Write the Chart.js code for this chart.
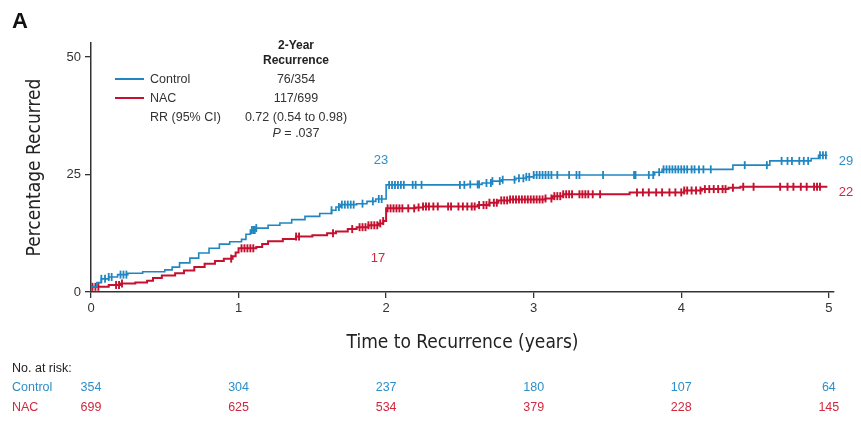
<!DOCTYPE html>
<html>
<head>
<meta charset="utf-8">
<script src="https://cdn.jsdelivr.net/npm/chart.js@4"></script>
<style>
  html, body { margin: 0; padding: 0; background: #fff; }
  #wrap { position: relative; width: 861px; height: 426px; overflow: hidden; }
  canvas { position: absolute; left: 0; top: 0; }
  .t { position: absolute; white-space: nowrap; font-family: 'Liberation Sans', Arial, sans-serif; font-size: 12.5px; line-height: 1; color: #333; }
</style>
</head>
<body>
<div id="wrap">
  <canvas id="c" width="861" height="426"></canvas>
</div>
<script>
// ---------- DATA ----------
const seriesNames = ['Control', 'NAC'];
const twoYearRecurrence = ['76/354', '117/699'];
const rrText = '0.72 (0.54 to 0.98)';
const pText = '.037';

// Kaplan-Meier style cumulative recurrence (%), [time (years), percent]
const controlTimes = [0, 0.04, 0.07, 0.12, 0.18, 0.25, 0.35, 0.5, 0.55, 0.6, 0.67, 0.73, 0.8, 0.87, 0.94, 1.02, 1.05, 1.08, 1.12, 1.2, 1.28, 1.36, 1.45, 1.55, 1.63, 1.66, 1.69, 1.8, 1.87, 1.93, 2.0, 2.55, 2.65, 2.72, 2.78, 2.88, 2.95, 3.0, 3.82, 3.87, 4.35, 4.6, 4.88, 4.93, 4.99];
const controlPct   = [1.1, 2.0, 2.8, 3.2, 3.7, 4.0, 4.3, 4.7, 5.3, 6.2, 7.2, 8.3, 9.3, 10.2, 10.7, 11.2, 12.3, 13.2, 13.6, 14.2, 14.7, 15.4, 16.1, 16.7, 17.4, 18.1, 18.6, 18.8, 19.3, 19.8, 22.8, 22.9, 23.2, 23.6, 23.9, 24.2, 24.5, 24.9, 25.5, 26.1, 27.0, 27.9, 28.4, 29.1, 29.1];

const nacTimes = [0, 0.12, 0.2, 0.3, 0.38, 0.42, 0.48, 0.57, 0.63, 0.7, 0.77, 0.84, 0.9, 0.96, 0.98, 1.0, 1.12, 1.16, 1.2, 1.3, 1.39, 1.5, 1.6, 1.66, 1.74, 1.8, 1.88, 1.95, 1.98, 2.0, 2.2, 2.25, 2.62, 2.7, 2.76, 2.84, 3.08, 3.13, 3.2, 3.65, 4.02, 4.14, 4.32, 4.4, 4.99];
const nacPct   = [1.1, 1.5, 1.8, 2.0, 2.4, 3.0, 3.5, 4.0, 4.6, 5.3, 6.0, 6.6, 7.1, 7.6, 8.4, 9.3, 9.6, 10.2, 10.8, 11.3, 11.8, 12.1, 12.5, 12.9, 13.4, 13.8, 14.2, 14.6, 15.1, 17.8, 18.0, 18.2, 18.5, 19.0, 19.5, 19.7, 19.9, 20.4, 20.8, 21.2, 21.6, 21.9, 22.2, 22.4, 22.4];

// Censoring times (years)
const controlCensor = [0.07, 0.095, 0.12, 0.14, 0.2, 0.22, 0.24, 1.09, 1.1, 1.11, 1.12, 1.63, 1.68, 1.7, 1.72, 1.74, 1.76, 1.78, 1.84, 1.91, 1.95, 1.97, 2.02, 2.04, 2.06, 2.08, 2.1, 2.12, 2.18, 2.2, 2.24, 2.5, 2.53, 2.57, 2.62, 2.63, 2.68, 2.71, 2.72, 2.77, 2.79, 2.87, 2.9, 2.93, 2.95, 2.97, 3.0, 3.02, 3.04, 3.06, 3.08, 3.1, 3.12, 3.16, 3.24, 3.29, 3.31, 3.47, 3.68, 3.69, 3.78, 3.81, 3.85, 3.88, 3.9, 3.92, 3.94, 3.96, 3.98, 4.0, 4.02, 4.04, 4.07, 4.09, 4.12, 4.15, 4.2, 4.43, 4.58, 4.68, 4.72, 4.75, 4.8, 4.83, 4.86, 4.94, 4.96, 4.98];
const nacCensor = [0.01, 0.03, 0.05, 0.17, 0.19, 0.21, 0.95, 1.02, 1.04, 1.06, 1.08, 1.1, 1.39, 1.41, 1.64, 1.77, 1.82, 1.84, 1.86, 1.88, 1.9, 1.92, 1.94, 1.96, 1.98, 2.01, 2.03, 2.05, 2.07, 2.09, 2.11, 2.15, 2.19, 2.22, 2.25, 2.27, 2.29, 2.32, 2.35, 2.42, 2.44, 2.49, 2.52, 2.55, 2.58, 2.6, 2.63, 2.66, 2.68, 2.7, 2.73, 2.75, 2.78, 2.8, 2.82, 2.84, 2.86, 2.88, 2.9, 2.92, 2.94, 2.96, 2.98, 3.0, 3.02, 3.04, 3.06, 3.08, 3.12, 3.14, 3.16, 3.18, 3.2, 3.22, 3.24, 3.26, 3.31, 3.33, 3.35, 3.37, 3.4, 3.45, 3.7, 3.74, 3.78, 3.83, 3.87, 3.92, 3.96, 4.0, 4.02, 4.04, 4.07, 4.1, 4.13, 4.16, 4.19, 4.22, 4.25, 4.28, 4.3, 4.35, 4.42, 4.49, 4.67, 4.72, 4.76, 4.81, 4.85, 4.9, 4.92, 4.94];

const xTicks = [0, 1, 2, 3, 4, 5];
const yTicks = [0, 25, 50];
const controlAtRisk = [354, 304, 237, 180, 107, 64];
const nacAtRisk = [699, 625, 534, 379, 228, 145];
const twoYearLabels = ['23', '17'];
const fiveYearLabels = ['29', '22'];

// ---------- STYLE ----------
const BLUE = '#1f86c1';
const RED = '#c5102f';
const BLUE_TXT = '#2d8fc9';
const RED_TXT = '#d2283f';
const AXIS = '#333';

function toPts(ts, vs) { return ts.map((t, i) => ({ x: t, y: vs[i] })); }
function stepAt(ts, vs, t) {
  let v = vs[0];
  for (let i = 0; i < ts.length; i++) { if (ts[i] <= t) v = vs[i]; else break; }
  return v;
}
function censorPts(cts, ts, vs) { return cts.map(t => ({ x: t, y: stepAt(ts, vs, t) })); }

const titleFont = { family: "'Liberation Sans Narrow', 'DejaVu Sans Condensed', sans-serif", size: 19 };
const tickFont = { family: "'Liberation Sans', Arial, sans-serif", size: 13 };

const chart = new Chart(document.getElementById('c'), {
  type: 'line',
  data: {
    datasets: [
      { label: seriesNames[0], data: toPts(controlTimes, controlPct), borderColor: BLUE, borderWidth: 1.6, stepped: 'before', pointRadius: 0, fill: false },
      { label: seriesNames[1], data: toPts(nacTimes, nacPct), borderColor: RED, borderWidth: 2, stepped: 'before', pointRadius: 0, fill: false },
      { label: 'c1', data: censorPts(controlCensor, controlTimes, controlPct), showLine: false, pointStyle: 'line', rotation: 90, pointRadius: 4, pointBorderWidth: 1.8, borderColor: BLUE, pointBorderColor: BLUE, backgroundColor: BLUE },
      { label: 'c2', data: censorPts(nacCensor, nacTimes, nacPct), showLine: false, pointStyle: 'line', rotation: 90, pointRadius: 4, pointBorderWidth: 1.9, borderColor: RED, pointBorderColor: RED, backgroundColor: RED }
    ]
  },
  options: {
    responsive: false,
    animation: false,
    events: [],
    layout: { padding: { left: 0, top: 43, right: 27, bottom: 70 } },
    plugins: { legend: { display: false }, tooltip: { enabled: false } },
    scales: {
      x: {
        type: 'linear', min: 0, max: 5.035,
        afterBuildTicks: s => { s.ticks = xTicks.map(v => ({ value: v })); },
        afterFit: s => { s.height = 64; },
        grid: { display: true, drawOnChartArea: false, drawTicks: true, tickLength: 6, color: AXIS, lineWidth: 1.3 },
        border: { display: true, color: AXIS, width: 1.5 },
        ticks: { font: tickFont, color: '#333', padding: 3, maxRotation: 0 },
        title: { display: true, text: 'Time to Recurrence (years)', font: titleFont, color: '#222', padding: { top: 0, bottom: 2 } }
      },
      y: {
        type: 'linear', min: 0, max: 53,
        afterBuildTicks: s => { s.ticks = yTicks.map(v => ({ value: v })); },
        afterFit: s => { s.width = 91; },
        grid: { display: true, drawOnChartArea: false, drawTicks: true, tickLength: 6, color: AXIS, lineWidth: 1.3 },
        border: { display: true, color: AXIS, width: 1.5 },
        ticks: { font: tickFont, color: '#333', padding: 4 },
        title: { display: true, text: 'Percentage Recurred', font: titleFont, color: '#222', padding: { top: 24, bottom: 0 } }
      }
    }
  }
});

// ---------- TEXT OVERLAYS ----------
const wrap = document.getElementById('wrap');
function put(html, x, y, opts = {}) {
  const d = document.createElement('div');
  d.className = 't';
  d.innerHTML = html;
  if (opts.style) Object.assign(d.style, opts.style);
  d.style.left = x + 'px';
  d.style.top = y + 'px';
  const ax = opts.anchor === 'center' ? '-50%' : (opts.anchor === 'right' ? '-100%' : '0');
  d.style.transform = `translate(${ax}, -50%)`;
  wrap.appendChild(d);
  return d;
}
function line(x1, x2, y, color) {
  const d = document.createElement('div');
  Object.assign(d.style, { position: 'absolute', left: x1 + 'px', top: (y - 1) + 'px', width: (x2 - x1) + 'px', height: '2px', background: color });
  wrap.appendChild(d);
}

const sx = chart.scales.x, sy = chart.scales.y;

put('A', 12, 21, { style: { fontWeight: 'bold', fontSize: '22px', color: '#111' } });

// legend block
put('2-Year', 296, 45, { anchor: 'center', style: { fontWeight: 'bold', fontSize: '12px', color: '#222' } });
put('Recurrence', 296, 60, { anchor: 'center', style: { fontWeight: 'bold', fontSize: '12px', color: '#222' } });
line(115, 144, 79, BLUE);
line(115, 144, 98, RED);
put(seriesNames[0], 150, 79);
put(seriesNames[1], 150, 98);
put('RR (95% CI)', 150, 117);
put(twoYearRecurrence[0], 296, 79, { anchor: 'center' });
put(twoYearRecurrence[1], 296, 98, { anchor: 'center' });
put(rrText, 296, 117, { anchor: 'center' });
put('<i>P</i> = ' + pText, 296, 133, { anchor: 'center' });

// curve annotations
put(twoYearLabels[0], sx.getPixelForValue(1.965), sy.getPixelForValue(28.3), { anchor: 'center', style: { color: BLUE_TXT, fontSize: '13px' } });
put(twoYearLabels[1], sx.getPixelForValue(1.945), sy.getPixelForValue(7.5), { anchor: 'center', style: { color: RED_TXT, fontSize: '13px' } });
put(fiveYearLabels[0], sx.getPixelForValue(5) + 10, sy.getPixelForValue(28), { style: { color: BLUE_TXT, fontSize: '13px' } });
put(fiveYearLabels[1], sx.getPixelForValue(5) + 10, sy.getPixelForValue(21.6), { style: { color: RED_TXT, fontSize: '13px' } });

// number at risk table
put('No. at risk:', 12, 368, { style: { color: '#222' } });
put(seriesNames[0], 12, 387, { style: { color: BLUE_TXT } });
put(seriesNames[1], 12, 407, { style: { color: RED_TXT } });
xTicks.forEach((t, i) => {
  const px = sx.getPixelForValue(t);
  put(String(controlAtRisk[i]), px, 387, { anchor: 'center', style: { color: BLUE_TXT } });
  put(String(nacAtRisk[i]), px, 407, { anchor: 'center', style: { color: RED_TXT } });
});
</script>
</body>
</html>
